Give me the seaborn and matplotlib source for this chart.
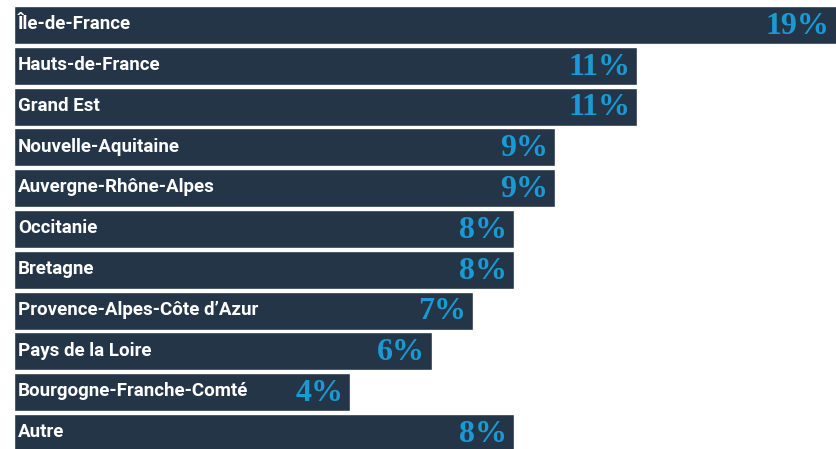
import pandas as pd
import matplotlib.pyplot as plt
import seaborn as sns

sns.set_style("white")

regions = ["Île-de-France", "Hauts-de-France", "Grand Est", "Nouvelle-Aquitaine",
           "Auvergne-Rhône-Alpes", "Occitanie", "Bretagne", "Provence-Alpes-Côte d’Azur",
           "Pays de la Loire", "Bourgogne-Franche-Comté", "Autre"]
shares = [19, 11, 11, 9, 9, 8, 8, 7, 6, 4, 8]

df = pd.DataFrame({"region": regions, "share": shares})

navy = "#243547"
blue = "#1a9ad5"
start = -4.2  # bars begin left of zero, as in the original

fig = plt.figure(figsize=(8.36, 4.49), dpi=100)
ax = fig.add_axes([0, 0, 1, 1])
sns.barplot(data=df, x="share", y="region", orient="y", color=navy,
            width=0.93, saturation=1, ax=ax)

# stretch every bar so it starts at the common left edge
for p, v in zip(ax.patches, shares):
    p.set_x(start)
    p.set_width(v - start)

ax.set_xlim(-4.54, 15.85)
ax.set_ylim(10.392, -0.613)
ax.axis("off")

for i, (r, v) in enumerate(zip(regions, shares)):
    ax.text(start + 0.1, i - 0.02, r, color="white", fontsize=13.5, fontweight="bold",
            family="Roboto", va="center", ha="left")
    xv = min(v, 15.85)
    ax.annotate(f"{v}%", xy=(xv, i), xytext=(-5, -1), textcoords="offset points",
                color=blue, fontsize=23, fontweight="bold", family="Liberation Serif",
                va="center", ha="right")

fig.savefig("out.png", dpi=100)
